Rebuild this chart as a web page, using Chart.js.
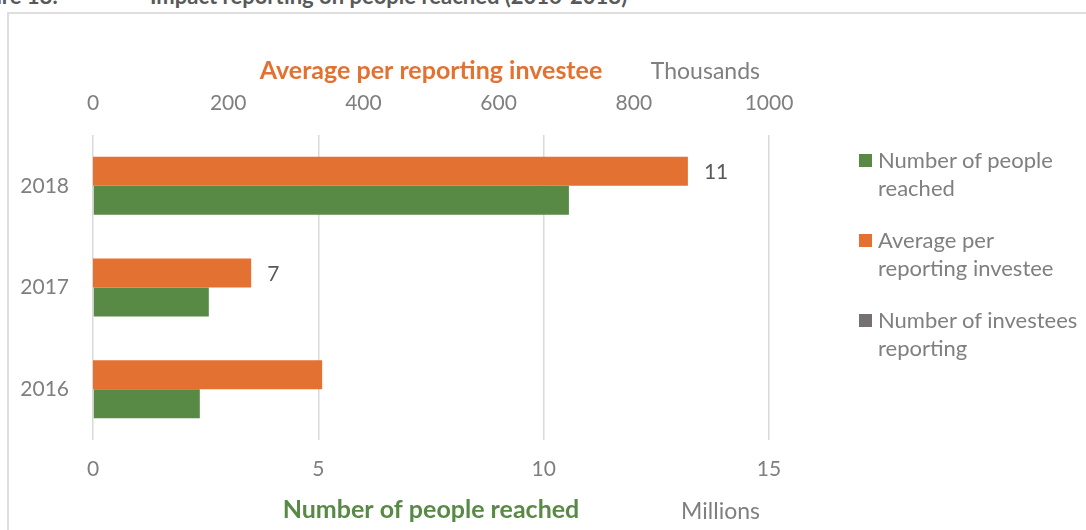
<!DOCTYPE html>
<html>
<head>
<meta charset="utf-8">
<script src="https://cdn.jsdelivr.net/npm/chart.js@4/dist/chart.umd.min.js"></script>
<style>
  html, body { margin: 0; padding: 0; background: #fff; overflow: hidden; }
  body { width: 1086px; height: 530px; position: relative; font-family: Lato, "Open Sans", sans-serif; }
  #frame { position: absolute; left: 7px; top: 12px; width: 1200px; height: 700px; border: 2px solid #dedede; box-sizing: border-box; }
  #chart { position: absolute; left: 0; top: 0; }
  .ttl { position: absolute; top: -15px; font-size: 22px; line-height: 22px; font-weight: bold; color: #595959; white-space: nowrap; }
  .unit { position: absolute; font-size: 23px; line-height: 26px; color: #7f7f7f; text-align: right; width: 200px; }
  #legend { position: absolute; left: 859px; top: 146px; }
  .item { position: relative; padding-left: 19px; font-size: 22px; line-height: 28px; color: #7f7f7f; margin-bottom: 24px; white-space: nowrap; }
  .sw { position: absolute; left: 0; top: 8px; width: 13px; height: 13px; }
</style>
</head>
<body>
<div id="frame"></div>
<div class="ttl" style="left:-200px;width:258px;text-align:right;">Figure 18:</div>
<div class="ttl" style="left:150px;">Impact reporting on people reached (2016-2018)</div>
<canvas id="chart" width="1086" height="530"></canvas>
<div class="unit" style="left:560px;top:57px;">Thousands</div>
<div class="unit" style="left:560px;top:497px;">Millions</div>
<div id="legend"></div>
<script>
const categories = ['2016', '2017', '2018'];
const peopleReachedMillions = [2.37, 2.57, 10.56];
const averagePerInvesteeThousands = [339, 234, 880];
const investeesReporting = [null, 7, 11];
const bottomTicks = [0, 5, 10, 15];
const topTicks = [0, 200, 400, 600, 800, 1000];

const GREEN = '#588a45';
const ORANGE = '#e37131';
const GREY = '#767171';
const TICK = '#7f7f7f';

const legendItems = [
  { label: ['Number of people', 'reached'], color: GREEN },
  { label: ['Average per', 'reporting investee'], color: ORANGE },
  { label: ['Number of investees', 'reporting'], color: GREY }
];
const lg = document.getElementById('legend');
legendItems.forEach(it => {
  const d = document.createElement('div');
  d.className = 'item';
  const s = document.createElement('span');
  s.className = 'sw';
  s.style.background = it.color;
  d.appendChild(s);
  it.label.forEach((t, i) => {
    if (i) d.appendChild(document.createElement('br'));
    d.appendChild(document.createTextNode(t));
  });
  lg.appendChild(d);
});

const labelPlugin = {
  id: 'investeeLabels',
  afterDatasetsDraw(chart) {
    const meta = chart.getDatasetMeta(0);
    const ctx = chart.ctx;
    ctx.save();
    ctx.font = '21px Lato';
    ctx.fillStyle = '#595959';
    ctx.textAlign = 'left';
    ctx.textBaseline = 'middle';
    meta.data.forEach((el, i) => {
      const v = investeesReporting[i];
      if (v === null || v === undefined) return;
      ctx.fillText(String(v), el.x + 16, el.y + 1);
    });
    ctx.restore();
  }
};

const tickFont = { family: 'Lato', size: 21 };
const plain = v => String(v);

new Chart(document.getElementById('chart'), {
  type: 'bar',
  data: {
    labels: categories,
    datasets: [
      { label: 'Average per reporting investee', data: averagePerInvesteeThousands, backgroundColor: ORANGE, xAxisID: 'x2' },
      { label: 'Number of people reached', data: peopleReachedMillions, backgroundColor: GREEN, xAxisID: 'x' }
    ]
  },
  options: {
    indexAxis: 'y',
    responsive: false,
    animation: false,
    devicePixelRatio: 1,
    categoryPercentage: 0.57,
    barPercentage: 1,
    layout: { padding: { left: 8, right: 317, top: 0, bottom: 0 } },
    plugins: { legend: { display: false }, tooltip: { enabled: false } },
    scales: {
      y: {
        reverse: true,
        grid: { display: false, drawTicks: false },
        border: { display: false },
        ticks: { font: tickFont, color: TICK, padding: 24 },
        afterFit(s) { s.width = 85; }
      },
      x: {
        position: 'bottom',
        min: 0, max: 15,
        afterBuildTicks(s) { s.ticks = bottomTicks.map(v => ({ value: v })); },
        grid: { color: '#d9d9d9', lineWidth: 1.5, drawTicks: false },
        border: { display: false },
        ticks: { font: tickFont, color: TICK, padding: 17, callback: plain },
        title: { display: true, text: 'Number of people reached', color: GREEN, font: { family: 'Lato', size: 25, weight: 'bold' }, padding: { top: 0, bottom: 5 } },
        afterFit(s) { s.height = 90; }
      },
      x2: {
        position: 'top',
        min: 0, max: 1000,
        afterBuildTicks(s) { s.ticks = topTicks.map(v => ({ value: v })); },
        grid: { display: false, drawTicks: false },
        border: { display: false },
        ticks: { font: tickFont, color: TICK, padding: 19, callback: plain },
        title: { display: true, text: 'Average per reporting investee', color: ORANGE, font: { family: 'Lato', size: 25, weight: 'bold' }, padding: { top: 56, bottom: 0 } },
        afterFit(s) { s.height = 135; }
      }
    }
  },
  plugins: [labelPlugin]
});
</script>
</body>
</html>
